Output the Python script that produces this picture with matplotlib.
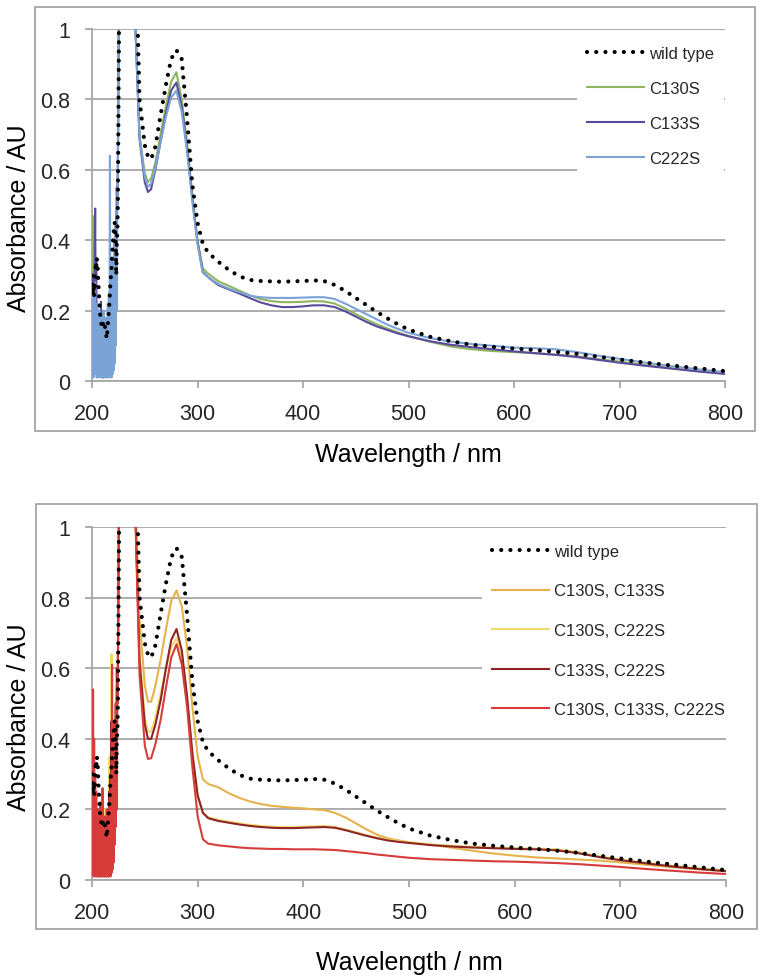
import numpy as np
import matplotlib
matplotlib.use("Agg")
import matplotlib.pyplot as plt
from matplotlib.patches import Rectangle

plt.rcParams['font.family'] = ['Liberation Sans', 'DejaVu Sans']

# ---------------- data ----------------
# noisy far-UV region (nm)
wl_uv = np.arange(200.0, 225.0, 0.5)
# smooth region (nm)
wl_vis = [226, 230, 235, 240, 245, 250, 253, 256, 260, 265,
          270, 275, 280, 285, 290, 295, 300, 305, 310, 320,
          330, 340, 350, 360, 370, 380, 390, 400, 410, 420,
          430, 440, 450, 460, 470, 480, 490, 500, 520, 540,
          560, 580, 600, 620, 640, 660, 680, 700, 725, 750,
          775, 800]

wt_uv = [0.30, 0.28, 0.25, 0.27, 0.24, 0.26, 0.30, 0.33, 0.32, 0.35,
         0.34, 0.32, 0.28, 0.25, 0.22, 0.20, 0.18, 0.17, 0.16, 0.16,
         0.15, 0.16, 0.17, 0.17, 0.16, 0.15, 0.14, 0.13, 0.12, 0.14,
         0.16, 0.18, 0.20, 0.22, 0.25, 0.28, 0.30, 0.32, 0.35, 0.38,
         0.40, 0.42, 0.44, 0.45, 0.42, 0.38, 0.30, 0.40, 0.42, 0.50]
wt_vis = [1.2, 2.2, 2.2, 1.4, 0.80, 0.67, 0.638, 0.63, 0.665, 0.755,
          0.84, 0.915, 0.94, 0.915, 0.75, 0.56, 0.45, 0.39, 0.365, 0.338,
          0.315, 0.297, 0.287, 0.284, 0.283, 0.282, 0.283, 0.284, 0.286, 0.284,
          0.273, 0.256, 0.236, 0.216, 0.196, 0.178, 0.161, 0.146, 0.126, 0.113,
          0.103, 0.097, 0.092, 0.088, 0.083, 0.077, 0.069, 0.061, 0.052, 0.044,
          0.036, 0.028]

c130_uv = [0.30, 0.47, 0.15, 0.40, 0.10, 0.30, 0.05, 0.25, 0.12, 0.20,
           0.08, 0.16, 0.03, 0.14, 0.06, 0.12, 0.02, 0.15, 0.05, 0.10,
           0.01, 0.13, 0.04, 0.15, 0.02, 0.10, 0.05, 0.14, 0.01, 0.12,
           0.05, 0.15, 0.02, 0.20, 0.06, 0.30, 0.10, 0.35, 0.15, 0.30,
           0.10, 0.30, 0.20, 0.35, 0.25, 0.40, 0.35, 0.50, 0.50, 0.60]
c130_vis = [1.3, 2.0, 2.0, 1.1, 0.70, 0.59, 0.565, 0.575, 0.62, 0.70,
            0.78, 0.85, 0.877, 0.80, 0.68, 0.53, 0.40, 0.32, 0.305, 0.283,
            0.27, 0.256, 0.243, 0.233, 0.227, 0.224, 0.224, 0.225, 0.227, 0.226,
            0.22, 0.206, 0.19, 0.175, 0.161, 0.149, 0.138, 0.128, 0.112, 0.098,
            0.09, 0.085, 0.082, 0.079, 0.075, 0.07, 0.062, 0.055, 0.045, 0.036,
            0.028, 0.021]

c133_uv = [0.18, 0.30, 0.10, 0.25, 0.05, 0.30, 0.49, 0.20, 0.35, 0.12,
           0.16, 0.05, 0.18, 0.10, 0.15, 0.03, 0.12, 0.225, 0.02, 0.10,
           0.04, 0.12, 0.01, 0.10, 0.05, 0.13, 0.02, 0.09, 0.04, 0.15,
           0.03, 0.12, 0.06, 0.25, 0.10, 0.30, 0.15, 0.28, 0.20, 0.32,
           0.25, 0.35, 0.30, 0.40, 0.35, 0.45, 0.40, 0.55, 0.50, 0.60]
c133_vis = [1.3, 2.0, 2.0, 1.1, 0.69, 0.565, 0.537, 0.545, 0.60, 0.68,
            0.76, 0.825, 0.848, 0.78, 0.665, 0.52, 0.395, 0.31, 0.295, 0.272,
            0.26, 0.248, 0.235, 0.223, 0.215, 0.21, 0.21, 0.212, 0.215, 0.215,
            0.21, 0.198, 0.183, 0.168, 0.155, 0.145, 0.135, 0.127, 0.113, 0.103,
            0.096, 0.09, 0.084, 0.079, 0.074, 0.068, 0.06, 0.052, 0.043, 0.035,
            0.027, 0.02]

c222_uv = [0.15, 0.02, 0.25, 0.01, 0.20, 0.03, 0.28, 0.02, 0.18, 0.01,
           0.22, 0.02, 0.15, 0.01, 0.20, 0.03, 0.12, 0.01, 0.18, 0.02,
           0.16, 0.01, 0.20, 0.02, 0.14, 0.01, 0.18, 0.03, 0.15, 0.01,
           0.22, 0.02, 0.25, 0.01, 0.64, 0.03, 0.30, 0.01, 0.35, 0.02,
           0.30, 0.03, 0.35, 0.05, 0.40, 0.10, 0.45, 0.20, 0.50, 0.60]
c222_vis = [1.3, 2.0, 2.0, 1.1, 0.695, 0.58, 0.552, 0.56, 0.605, 0.68,
            0.75, 0.805, 0.825, 0.765, 0.655, 0.515, 0.39, 0.308, 0.295, 0.275,
            0.262, 0.252, 0.242, 0.238, 0.236, 0.236, 0.236, 0.237, 0.238, 0.238,
            0.233, 0.22, 0.205, 0.19, 0.175, 0.16, 0.148, 0.137, 0.122, 0.112,
            0.105, 0.1, 0.095, 0.093, 0.09, 0.082, 0.072, 0.063, 0.052, 0.042,
            0.033, 0.025]

d130_133_uv = [0.35, 0.48, 0.20, 0.40, 0.15, 0.30, 0.10, 0.25, 0.12, 0.18,
               0.06, 0.15, 0.03, 0.18, 0.08, 0.12, 0.02, 0.14, 0.05, 0.10,
               0.03, 0.12, 0.05, 0.15, 0.02, 0.10, 0.06, 0.14, 0.03, 0.12,
               0.05, 0.18, 0.08, 0.25, 0.12, 0.30, 0.15, 0.35, 0.22, 0.40,
               0.20, 0.35, 0.25, 0.40, 0.30, 0.45, 0.35, 0.55, 0.50, 0.60]
d130_133_vis = [1.3, 2.0, 2.0, 1.15, 0.74, 0.55, 0.505, 0.505, 0.55, 0.625,
                0.71, 0.79, 0.82, 0.775, 0.66, 0.49, 0.35, 0.285, 0.272, 0.262,
                0.245, 0.232, 0.222, 0.215, 0.21, 0.207, 0.205, 0.203, 0.2, 0.198,
                0.19, 0.177, 0.16, 0.143, 0.128, 0.118, 0.112, 0.107, 0.1, 0.092,
                0.083, 0.075, 0.069, 0.064, 0.061, 0.058, 0.055, 0.05, 0.043, 0.036,
                0.03, 0.025]

d130_222_uv = [0.46, 0.30, 0.15, 0.35, 0.10, 0.25, 0.05, 0.20, 0.08, 0.15,
               0.03, 0.20, 0.06, 0.15, 0.02, 0.18, 0.05, 0.12, 0.02, 0.20,
               0.10, 0.20, 0.15, 0.20, 0.12, 0.18, 0.05, 0.20, 0.01, 0.15,
               0.05, 0.20, 0.08, 0.35, 0.15, 0.30, 0.20, 0.64, 0.30, 0.45,
               0.35, 0.40, 0.30, 0.45, 0.35, 0.50, 0.40, 0.55, 0.50, 0.60]
d130_222_vis = [1.3, 2.0, 2.0, 1.15, 0.64, 0.46, 0.42, 0.42, 0.46, 0.53,
                0.60, 0.66, 0.685, 0.63, 0.51, 0.35, 0.235, 0.19, 0.178, 0.17,
                0.165, 0.16, 0.156, 0.153, 0.151, 0.15, 0.15, 0.151, 0.152, 0.153,
                0.15, 0.143, 0.135, 0.127, 0.12, 0.114, 0.11, 0.107, 0.101, 0.097,
                0.094, 0.092, 0.09, 0.089, 0.087, 0.079, 0.067, 0.058, 0.049, 0.04,
                0.033, 0.027]

d133_222_uv = [0.30, 0.45, 0.05, 0.35, 0.02, 0.28, 0.04, 0.22, 0.01, 0.18,
               0.03, 0.15, 0.01, 0.20, 0.02, 0.16, 0.01, 0.12, 0.03, 0.18,
               0.01, 0.15, 0.02, 0.12, 0.01, 0.14, 0.03, 0.10, 0.01, 0.16,
               0.02, 0.20, 0.01, 0.25, 0.03, 0.30, 0.02, 0.45, 0.05, 0.40,
               0.10, 0.40, 0.15, 0.45, 0.20, 0.50, 0.30, 0.60, 0.50, 0.60]
d133_222_vis = [1.3, 2.0, 2.0, 1.15, 0.62, 0.44, 0.40, 0.40, 0.44, 0.51,
                0.60, 0.68, 0.711, 0.65, 0.52, 0.36, 0.24, 0.19, 0.175, 0.167,
                0.162, 0.157, 0.153, 0.15, 0.148, 0.147, 0.147, 0.148, 0.149, 0.15,
                0.148, 0.141, 0.133, 0.125, 0.118, 0.112, 0.108, 0.105, 0.099, 0.095,
                0.092, 0.09, 0.088, 0.087, 0.084, 0.076, 0.065, 0.056, 0.047, 0.038,
                0.031, 0.025]

t_uv = [0.20, 0.02, 0.54, 0.01, 0.40, 0.02, 0.30, 0.01, 0.25, 0.02,
        0.20, 0.01, 0.18, 0.02, 0.15, 0.01, 0.22, 0.02, 0.12, 0.01,
        0.26, 0.02, 0.15, 0.01, 0.18, 0.02, 0.12, 0.01, 0.20, 0.02,
        0.15, 0.01, 0.22, 0.02, 0.25, 0.01, 0.30, 0.02, 0.61, 0.03,
        0.35, 0.05, 0.40, 0.10, 0.45, 0.15, 0.50, 0.20, 0.50, 0.60]
t_vis = [1.3, 2.0, 2.0, 1.15, 0.58, 0.38, 0.343, 0.345, 0.385, 0.455,
         0.545, 0.63, 0.668, 0.61, 0.49, 0.32, 0.18, 0.115, 0.103, 0.098,
         0.095, 0.092, 0.09, 0.089, 0.088, 0.088, 0.087, 0.087, 0.087, 0.086,
         0.085, 0.082, 0.079, 0.076, 0.072, 0.069, 0.066, 0.063, 0.059, 0.057,
         0.055, 0.053, 0.052, 0.05, 0.048, 0.045, 0.041, 0.037, 0.031, 0.026,
         0.021, 0.017]

x_ticks = [200, 300, 400, 500, 600, 700, 800]
y_ticks = [0, 0.2, 0.4, 0.6, 0.8, 1]
y_tick_labels = ['0', '0.2', '0.4', '0.6', '0.8', '1']

top_series = [("wild type", wt_uv, wt_vis, 'black'),
              ("C130S", c130_uv, c130_vis, '#8FB55E'),
              ("C133S", c133_uv, c133_vis, '#5A4A9E'),
              ("C222S", c222_uv, c222_vis, '#7BA3D6')]
bot_series = [("wild type", wt_uv, wt_vis, 'black'),
              ("C130S, C133S", d130_133_uv, d130_133_vis, '#E6B24C'),
              ("C130S, C222S", d130_222_uv, d130_222_vis, '#EEDC6A'),
              ("C133S, C222S", d133_222_uv, d133_222_vis, '#8E2426'),
              ("C130S, C133S, C222S", t_uv, t_vis, '#D63C3A')]

W, H = 762, 978
GRAY = '#A6A6A6'
TXT = '#262626'

fig = plt.figure(figsize=(W / 100, H / 100), dpi=100)


def fx(px):
    return px / W


def fy(py):
    return 1 - py / H


def make_panel(rect, series, box, xlabel_y, ylabel_y, leg_anchor, labelspacing):
    l, t, r, b = rect
    ax = fig.add_axes([fx(l), fy(b), (r - l) / W, (b - t) / H])
    wl_all = np.concatenate([wl_uv, wl_vis])
    handles = []
    for i, (name, uv, vis, col) in enumerate(series):
        y = np.concatenate([uv, vis])
        if name == "wild type":
            h, = ax.plot(wl_all, y, color=col, lw=3.0, linestyle=(0, (0.01, 2.2)),
                         dash_capstyle='round', zorder=10, label=name)
        else:
            h, = ax.plot(wl_all, y, color=col, lw=1.5, zorder=3 + i, label=name)
        handles.append(h)
    ax.set_xlim(200, 800)
    ax.set_ylim(0, 1)
    ax.set_xticks(x_ticks)
    ax.set_xticklabels([str(v) for v in x_ticks])
    ax.set_yticks(y_ticks)
    ax.set_yticklabels(y_tick_labels)
    for s in ['top', 'right']:
        ax.spines[s].set_visible(False)
    for s in ['left', 'bottom']:
        ax.spines[s].set_color(GRAY)
        ax.spines[s].set_linewidth(1.3)
    ax.tick_params(axis='both', length=5, width=1.3, color=GRAY, labelsize=15.5,
                   labelcolor=TXT, pad=11)
    ax.yaxis.grid(True, color=GRAY, lw=1.3)
    ax.set_axisbelow(True)
    leg = ax.legend(handles=handles, loc='upper left', bbox_to_anchor=leg_anchor,
                    frameon=True, fontsize=12, handlelength=3.4, handletextpad=0.3,
                    labelspacing=labelspacing, borderpad=0.6, borderaxespad=0)
    leg.get_frame().set_facecolor('white')
    leg.get_frame().set_edgecolor('none')
    leg.get_frame().set_alpha(1)
    leg.set_zorder(20)
    for tx in leg.get_texts():
        tx.set_color(TXT)
    # outer border box
    bl, bt, br, bb = box
    fig.patches.append(Rectangle((fx(bl), fy(bb)), (br - bl) / W, (bb - bt) / H,
                                 transform=fig.transFigure, fill=False,
                                 edgecolor=GRAY, lw=1.3))
    fig.text(fx((l + r) / 2), fy(xlabel_y), "Wavelength / nm", ha='center', va='center',
             fontsize=18, color='black')
    fig.text(fx(19), fy(ylabel_y), "Absorbance / AU", ha='center', va='center',
             rotation=90, fontsize=18, color='black')
    return ax


make_panel((92, 30, 725, 382), top_series, (35, 8, 755, 432), 455, 218,
           ((577 - 92) / 633, (382 - 37) / 352), 1.2)
make_panel((92, 528, 726, 881), bot_series, (36, 505, 757, 930), 963, 717,
           ((482 - 92) / 634, (881 - 535) / 353), 1.47)

fig.savefig("out.png", dpi=100, facecolor='white')
